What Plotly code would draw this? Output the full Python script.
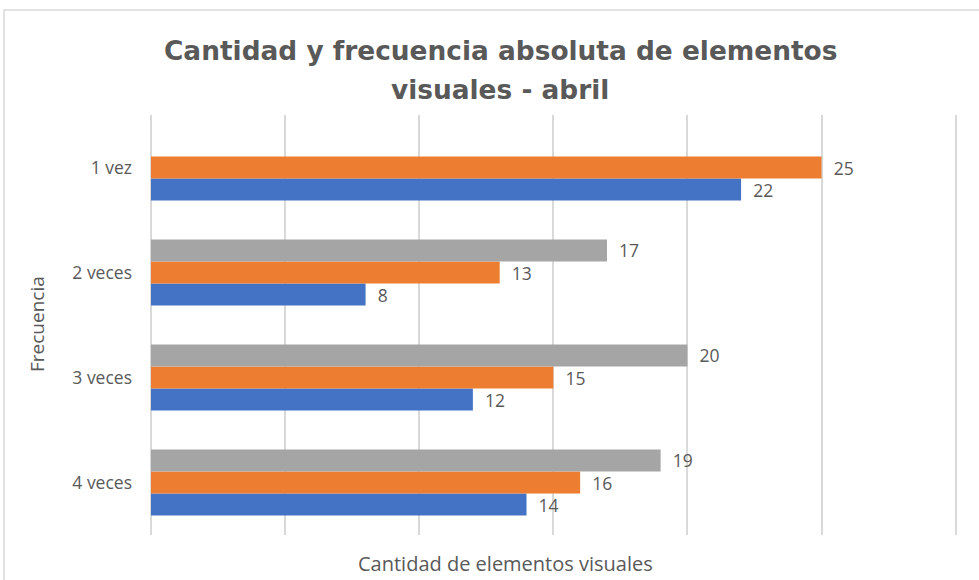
import plotly.graph_objects as go

BLUE = "#4472C4"
ORANGE = "#ED7D31"
GRAY = "#A5A5A5"
TEXT = "#595959"
GRID = "#D9D9D9"

FONT = "Open Sans"
TITLE_FONT = "DejaVu Sans"

# categories, bottom to top as drawn by the axis
categorias = ["4 veces", "3 veces", "2 veces", "1 vez"]

serie_1 = [14, 12, 8, 22]
serie_2 = [16, 15, 13, 25]
serie_3 = [19, 20, 17, None]

x_ticks = [0, 5, 10, 15, 20, 25, 30]

# plot area in pixels
L, R, T, B = 151, 22, 115, 45
W, H = 979, 580
PW, PH = W - L - R, H - T - B


def px_x(px):
    return (px - L) / PW


def px_y(py):
    return (H - B - py) / PH


fig = go.Figure()

for name, vals, color in [
    ("Serie 1", serie_1, BLUE),
    ("Serie 2", serie_2, ORANGE),
    ("Serie 3", serie_3, GRAY),
]:
    fig.add_trace(go.Bar(
        y=categorias,
        x=vals,
        name=name,
        orientation="h",
        marker=dict(color=color, line=dict(width=0)),
        text=vals,
        texttemplate="\u00a0\u00a0%{x}",
        textposition="outside",
        constraintext="none",
        textfont=dict(family=FONT, size=17.5, color=TEXT),
        cliponaxis=False,
    ))

fig.update_layout(
    width=W,
    height=H,
    paper_bgcolor="white",
    plot_bgcolor="white",
    showlegend=False,
    barmode="group",
    bargap=0.37,
    bargroupgap=0,
    margin=dict(l=L, r=R, t=T, b=B),
    font=dict(family=FONT, color=TEXT),
    xaxis=dict(
        range=[0, 30.05],
        tickvals=x_ticks,
        showticklabels=False,
        showgrid=True,
        gridcolor=GRID,
        gridwidth=1.5,
        zeroline=True,
        zerolinecolor=GRID,
        zerolinewidth=1.5,
        showline=False,
        fixedrange=True,
    ),
    yaxis=dict(
        categoryorder="array",
        categoryarray=categorias,
        showgrid=False,
        showline=False,
        ticks="",
        ticklabelstandoff=18,
        tickfont=dict(family=FONT, size=17.5, color=TEXT),
    ),
)

# title, two centred lines
for line, py in [("Cantidad y frecuencia absoluta de elementos", 50),
                 ("visuales - abril", 89)]:
    fig.add_annotation(
        text=f"<b>{line}</b>",
        xref="paper", yref="paper",
        x=px_x(500), y=px_y(py),
        xanchor="center", yanchor="middle",
        showarrow=False,
        font=dict(family=TITLE_FONT, size=26.4, color=TEXT),
    )

fig.add_annotation(
    text="Frecuencia",
    xref="paper", yref="paper",
    x=px_x(37), y=px_y(324),
    xanchor="center", yanchor="middle",
    textangle=-90,
    showarrow=False,
    font=dict(family=FONT, size=19, color=TEXT),
)

fig.add_annotation(
    text="Cantidad de elementos visuales",
    xref="paper", yref="paper",
    x=px_x(505), y=px_y(563),
    xanchor="center", yanchor="middle",
    showarrow=False,
    font=dict(family=FONT, size=20, color=TEXT),
)

# chart border (partly cut off on the right and bottom)
fig.add_shape(
    type="rect",
    xref="paper", yref="paper",
    x0=px_x(4), y0=px_y(620),
    x1=px_x(1020), y1=px_y(10),
    line=dict(color=GRID, width=1.5),
    fillcolor="rgba(0,0,0,0)",
    layer="below",
)

fig.write_html(
    "out.html",
    config=dict(displayModeBar=False),
    post_script="document.body.style.margin = '0';",
)
